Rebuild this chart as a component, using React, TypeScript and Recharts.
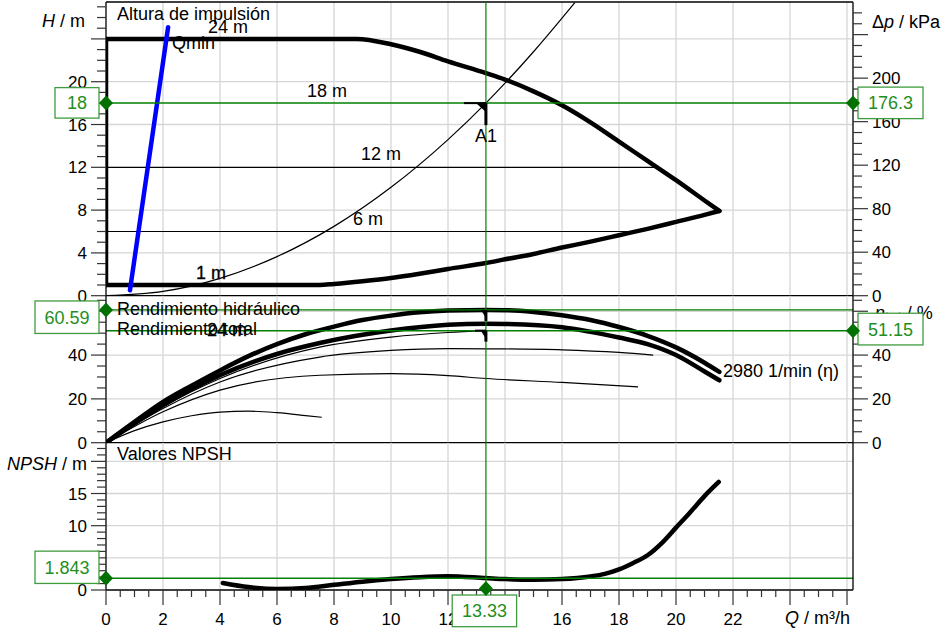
import React from "react";
import { ComposedChart, Line, XAxis, YAxis, ReferenceLine, ReferenceDot } from "recharts";

const FONT = "'Liberation Sans', Arial, Helvetica, sans-serif";
const GREEN = "#008000";
const BOX_GREEN = "#3f9c3f";
const TEXT_GREEN = "#1f8f1f";
const GRID = "#d6d6d6";

const Q_DOMAIN: [number, number] = [0, 26.21];
const H_DOMAIN: [number, number] = [0, 27.45];
const DP_DOMAIN: [number, number] = [0, 270];
const ETA_DOMAIN: [number, number] = [0, 67.1];
const NPSH_DOMAIN: [number, number] = [0, 22.9];

// operating point A1
const opQ = 13.33;
const opH = 18;
const opDp = 176.3;
const opEtaHyd = 60.59;
const opEtaTot = 51.15;
const opNpsh = 1.843;

// head: operating envelope
const upperQ = [0, 8.8, 10, 11, 12, 13.33, 14, 15, 16, 17, 18, 19, 20, 21, 21.52];
const upperH = [24, 24, 23.5, 22.8, 21.9, 20.8, 20.2, 19.1, 17.8, 16.2, 14.4, 12.6, 10.8, 8.9, 7.92];
const lowerQ = [0, 7.5, 8, 9, 10, 11, 12, 13.33, 14, 15, 16, 17, 18, 19, 20, 21, 21.52];
const lowerH = [1, 1, 1.1, 1.35, 1.65, 2.05, 2.5, 3.05, 3.4, 3.9, 4.5, 5.05, 5.65, 6.25, 6.9, 7.55, 7.92];
const edgeQ = [0, 0];
const edgeH = [1, 24];
const iso12Q = [0, 19.33];
const iso12H = [12, 12];
const iso6Q = [0, 18.6];
const iso6H = [6, 6];
// system curve
const sysQ = [0, 2, 4, 6, 8, 10, 12, 13.33, 14, 15, 16, 16.45];
const sysH = [0, 0.4, 1.62, 3.65, 6.48, 10.13, 14.59, 18, 19.86, 22.8, 25.94, 27.4];
// Qmin
const qminQ = [0.84, 2.18];
const qminH = [0.5, 25.1];

// efficiency
const etaHydQ = [0, 1, 2, 3, 4, 5, 6, 7, 8, 9, 10, 11, 12, 13.33, 14, 15, 16, 17, 18, 19, 20, 21, 21.52];
const etaHyd = [0, 9.5, 18.6, 26, 33, 39.5, 45, 49.5, 53, 56, 58, 59.5, 60.3, 60.6, 60.5, 59.7, 58.2, 56, 52.8, 48.8, 43.5, 36.5, 32.3];
const etaTotQ = [0, 2, 4, 6, 7.5, 10, 12, 13.33, 14, 16, 18, 19, 20, 21, 21.52];
const etaTot = [0, 17.1, 30.8, 40.5, 45.5, 51.2, 53.8, 54.3, 54.2, 52.7, 48, 45, 40, 32.5, 28.5];
const etaAQ = [0, 2, 4, 7.5, 10, 12, 13.33];
const etaA = [0, 16.4, 29.3, 43.6, 48.2, 50.3, 51.15];
const etaBQ = [0, 2, 4, 7.5, 10, 12, 14, 16, 18, 19.2];
const etaB = [0, 15.6, 27.7, 39.1, 42.1, 42.9, 42.8, 42.4, 41.2, 40];
const etaCQ = [0, 2, 4, 7.5, 10, 12, 13.33, 16, 18.67];
const etaC = [0, 14.1, 24, 30.8, 31.5, 30.6, 29.3, 27.5, 25.5];
const etaDQ = [0, 1, 2, 3, 4, 5, 6, 7, 7.57];
const etaD = [0, 5.5, 9.5, 12.3, 14, 14.4, 13.7, 12.4, 11.6];

// NPSH
const npshQ = [4.1, 5, 6, 7, 8, 9, 10, 11, 12, 13.33, 14, 15, 16, 17, 17.5, 18, 18.5, 19, 19.5, 20, 20.5, 21, 21.5];
const npsh = [1.1, 0.45, 0.15, 0.3, 0.8, 1.3, 1.7, 2.0, 2.15, 1.85, 1.7, 1.6, 1.7, 2.1, 2.5, 3.2, 4.2, 5.4, 7.3, 9.7, 12.1, 14.6, 16.8];

const range = (a: number, b: number, s: number) => {
  const out: number[] = [];
  for (let v = a; v <= b + 1e-9; v += s) out.push(+v.toFixed(3));
  return out;
};

const qTicks = range(0, 26, 0.5);
const qMajor = range(0, 26, 2);
const qLabels = range(0, 22, 2);
const qGrid = range(2, 26, 2);
const hTicks = range(0, 27, 1);
const hMajor = [0, 4, 8, 12, 16, 20, 24];
const hLabels = [0, 4, 8, 12, 16, 20];
const hGrid = [4, 8, 16, 20, 24];
const dpTicks = range(0, 260, 10);
const dpMajor = [0, 40, 80, 120, 160, 200, 240];
const dpLabels = [0, 40, 80, 120, 160, 200];
const etaTicks = range(0, 65, 5);
const etaMajor = [0, 20, 40, 60];
const etaLabels = [0, 20, 40];
const etaGrid = [20, 40, 60];
const npshTicks = range(0, 22, 1);
const npshMajor = [0, 5, 10, 15, 20];
const npshLabels = [0, 5, 10, 15];
const npshGrid = [5, 10, 15, 20];

const pts = (xs: number[], ys: number[]) => xs.map((q, i) => ({ q, v: ys[i] }));
const has = (arr: number[], v: number) => arr.some((m) => Math.abs(m - v) < 1e-6);

type Side = "left" | "right" | "bottom";
type Extra = (v: number, x: number, y: number) => React.ReactNode;
const tickRenderer =
  (side: Side, majors: number[], labels: number[], extra?: Extra) =>
  (props: any) => {
    const { x, y, payload } = props;
    const v = +payload.value;
    const major = has(majors, v);
    const lab = has(labels, v) ? String(v) : null;
    const ex = extra ? extra(v, x, y) : null;
    if (side === "left") {
      const len = major ? 15 : 9;
      return (
        <g>
          <line x1={x - len} x2={x} y1={y} y2={y} stroke="#333" strokeWidth={1.2} />
          {lab && (
            <text x={x - 19} y={y} dy="0.36em" textAnchor="end" fontSize={17} fill="#000">
              {lab}
            </text>
          )}
          {ex}
        </g>
      );
    }
    if (side === "right") {
      const len = major ? 15 : 9;
      return (
        <g>
          <line x1={x} x2={x + len} y1={y} y2={y} stroke="#333" strokeWidth={1.2} />
          {lab && (
            <text x={x + 19} y={y} dy="0.36em" textAnchor="start" fontSize={17} fill="#000">
              {lab}
            </text>
          )}
          {ex}
        </g>
      );
    }
    const len = major ? 15 : 7;
    return (
      <g>
        <line x1={x} x2={x} y1={y} y2={y + len} stroke="#333" strokeWidth={1.2} />
        {lab && (
          <text x={x} y={y + 35} textAnchor="middle" fontSize={17} fill="#000">
            {lab}
          </text>
        )}
      </g>
    );
  };

const diamond = (cx: number, cy: number) => (
  <polygon points={`${cx - 7},${cy} ${cx},${cy - 7.5} ${cx + 7},${cy} ${cx},${cy + 7.5}`} fill="#007000" />
);

const valueBox = (x: number, y: number, w: number, h: number, text: string) => (
  <g>
    <rect x={x} y={y} width={w} height={h} fill="#fff" stroke={BOX_GREEN} strokeWidth={1.3} />
    <text x={x + w / 2} y={y + h / 2} dy="0.36em" textAnchor="middle" fontSize={18} fill={TEXT_GREEN}>
      {text}
    </text>
  </g>
);

const thinLine = (data: { q: number; v: number }[], key: string, type: any = "monotone") => (
  <Line
    key={key}
    yAxisId="l"
    data={data}
    dataKey="v"
    type={type}
    stroke="#000"
    strokeWidth={1.2}
    dot={false}
    activeDot={false}
    isAnimationActive={false}
  />
);

const thickLine = (data: { q: number; v: number }[], key: string, color = "#000", type: any = "monotone") => (
  <Line
    key={key}
    yAxisId="l"
    data={data}
    dataKey="v"
    type={type}
    stroke={color}
    strokeWidth={4.5}
    strokeLinecap="round"
    strokeLinejoin="round"
    dot={false}
    activeDot={false}
    isAnimationActive={false}
  />
);

const gridLines = (qs: number[], ys: number[]) => [
  ...qs.map((q) => <ReferenceLine key={"gq" + q} yAxisId="l" x={q} stroke={GRID} strokeWidth={1.3} ifOverflow="visible" />),
  ...ys.map((v) => <ReferenceLine key={"gy" + v} yAxisId="l" y={v} stroke={GRID} strokeWidth={1.3} ifOverflow="visible" />),
];

const xAxisHidden = <XAxis dataKey="q" type="number" domain={Q_DOMAIN} allowDataOverflow hide ticks={qTicks} />;

// transparent layer on top of a panel, same plot box, for the value boxes
function BoxLayer(props: { height: number; top: number; bottom: number; domain: [number, number]; children: React.ReactNode }) {
  return (
    <ComposedChart width={944} height={props.height} margin={{ top: props.top, right: 91, bottom: props.bottom, left: 106 }}>
      <XAxis dataKey="q" type="number" domain={Q_DOMAIN} allowDataOverflow hide />
      <YAxis yAxisId="l" type="number" domain={props.domain} allowDataOverflow hide />
      {props.children}
    </ComposedChart>
  );
}

function HeadPanel() {
  return (
    <ComposedChart width={944} height={310} margin={{ top: 2, right: 0, bottom: 14.3, left: 0 }}>
      {xAxisHidden}
      <YAxis
        yAxisId="l"
        orientation="left"
        type="number"
        width={106}
        domain={H_DOMAIN}
        allowDataOverflow
        ticks={hTicks}
        interval={0}
        tickSize={0}
        tickMargin={0}
        axisLine={{ stroke: "#000", strokeWidth: 1.3 }}
        tickLine={false}
        tick={tickRenderer("left", hMajor, hLabels)}
      />
      <YAxis
        yAxisId="r"
        orientation="right"
        type="number"
        width={91}
        domain={DP_DOMAIN}
        allowDataOverflow
        ticks={dpTicks}
        interval={0}
        tickSize={0}
        tickMargin={0}
        axisLine={{ stroke: "#000", strokeWidth: 1.3 }}
        tickLine={false}
        tick={tickRenderer("right", dpMajor, dpLabels)}
      />
      {gridLines(qGrid, hGrid)}
      <ReferenceLine yAxisId="l" y={H_DOMAIN[1]} stroke="#000" strokeWidth={1.3} ifOverflow="visible" />
      <ReferenceLine yAxisId="l" y={0} stroke="#000" strokeWidth={1.3} ifOverflow="visible" />
      {thinLine(pts(iso12Q, iso12H), "iso12", "linear")}
      {thinLine(pts(iso6Q, iso6H), "iso6", "linear")}
      {thinLine(pts(sysQ, sysH), "sys")}
      {thickLine(pts(upperQ, upperH), "upper")}
      {thickLine(pts(lowerQ, lowerH), "lower")}
      {thickLine(pts(edgeQ, edgeH), "edge", "#000", "linear")}
      {thickLine(pts(qminQ, qminH), "qmin", "#0000ff", "linear")}
      <ReferenceLine yAxisId="l" x={opQ} stroke={GREEN} strokeWidth={1.2} ifOverflow="visible" />
      <ReferenceLine yAxisId="l" y={opH} stroke={GREEN} strokeWidth={1.5} ifOverflow="visible" />
      <ReferenceDot
        yAxisId="l"
        x={opQ}
        y={opH}
        r={1}
        ifOverflow="visible"
        shape={(p: any) => (
          <g>
            <line x1={p.cx - 22} x2={p.cx} y1={p.cy} y2={p.cy} stroke="#000" strokeWidth={2} />
            <line x1={p.cx} x2={p.cx} y1={p.cy} y2={p.cy + 22} stroke="#000" strokeWidth={3} />
            <polygon points={`${p.cx - 10},${p.cy} ${p.cx},${p.cy} ${p.cx},${p.cy + 9}`} fill="#000" />
            <text x={p.cx - 11} y={p.cy + 39} fontSize={18} fill="#000">
              A1
            </text>
          </g>
        )}
      />
    </ComposedChart>
  );
}

function HeadBoxes() {
  return (
    <BoxLayer height={310} top={2} bottom={14.3} domain={H_DOMAIN}>
      <ReferenceDot
        yAxisId="l"
        x={0}
        y={opH}
        r={1}
        ifOverflow="visible"
        shape={(p: any) => (
          <g>
            {valueBox(p.cx - 51, p.cy - 15.5, 44, 30.5, String(opH))}
            {diamond(p.cx, p.cy)}
          </g>
        )}
      />
      <ReferenceDot
        yAxisId="l"
        x={Q_DOMAIN[1]}
        y={opH}
        r={1}
        ifOverflow="visible"
        shape={(p: any) => (
          <g>
            {valueBox(p.cx + 5, p.cy - 16, 65, 31.5, String(opDp))}
            {diamond(p.cx, p.cy)}
          </g>
        )}
      />
    </BoxLayer>
  );
}

const etaRightLabel: Extra = (v, x, y) =>
  v === 60 ? (
    <text x={x + 22} y={y + 1} dy="0.36em" fontSize={18} fill="#000">
      <tspan fontStyle="italic">η</tspan>
      <tspan fontSize={15} dy={3}>
        tot
      </tspan>
      <tspan dy={-3}> / %</tspan>
    </text>
  ) : null;

function EtaPanel() {
  return (
    <ComposedChart width={944} height={175} margin={{ top: 15.7, right: 0, bottom: 12.3, left: 0 }}>
      {xAxisHidden}
      <YAxis
        yAxisId="l"
        orientation="left"
        type="number"
        width={106}
        domain={ETA_DOMAIN}
        allowDataOverflow
        ticks={etaTicks}
        interval={0}
        tickSize={0}
        tickMargin={0}
        axisLine={{ stroke: "#000", strokeWidth: 1.3 }}
        tickLine={false}
        tick={tickRenderer("left", etaMajor, etaLabels)}
      />
      <YAxis
        yAxisId="r"
        orientation="right"
        type="number"
        width={91}
        domain={ETA_DOMAIN}
        allowDataOverflow
        ticks={etaTicks}
        interval={0}
        tickSize={0}
        tickMargin={0}
        axisLine={{ stroke: "#000", strokeWidth: 1.3 }}
        tickLine={false}
        tick={tickRenderer("right", etaMajor, etaLabels, etaRightLabel)}
      />
      {gridLines(qGrid, etaGrid)}
      <ReferenceLine yAxisId="l" y={0} stroke="#000" strokeWidth={1.3} ifOverflow="visible" />
      {thinLine(pts(etaDQ, etaD), "d")}
      {thinLine(pts(etaCQ, etaC), "c")}
      {thinLine(pts(etaBQ, etaB), "b")}
      {thinLine(pts(etaAQ, etaA), "a")}
      {thickLine(pts(etaTotQ, etaTot), "tot")}
      {thickLine(pts(etaHydQ, etaHyd), "hyd")}
      <ReferenceLine yAxisId="l" x={opQ} stroke={GREEN} strokeWidth={1.2} ifOverflow="visible" />
      <ReferenceLine yAxisId="l" y={opEtaHyd} stroke={GREEN} strokeWidth={1.2} ifOverflow="visible" />
      <ReferenceLine yAxisId="l" y={opEtaTot} stroke={GREEN} strokeWidth={1.5} ifOverflow="visible" />
      <ReferenceDot
        yAxisId="l"
        x={opQ}
        y={opEtaHyd}
        r={1}
        ifOverflow="visible"
        shape={(p: any) => (
          <g>
            <line x1={p.cx} x2={p.cx} y1={p.cy} y2={p.cy + 11} stroke="#000" strokeWidth={3} />
            <polygon points={`${p.cx - 5},${p.cy} ${p.cx},${p.cy} ${p.cx},${p.cy + 8}`} fill="#000" />
          </g>
        )}
      />
      <ReferenceDot
        yAxisId="l"
        x={opQ}
        y={opEtaTot}
        r={1}
        ifOverflow="visible"
        shape={(p: any) => (
          <g>
            <line x1={p.cx - 11} x2={p.cx} y1={p.cy} y2={p.cy} stroke="#000" strokeWidth={2} />
            <line x1={p.cx} x2={p.cx} y1={p.cy} y2={p.cy + 11} stroke="#000" strokeWidth={3} />
            <polygon points={`${p.cx - 5},${p.cy} ${p.cx},${p.cy} ${p.cx},${p.cy + 8}`} fill="#000" />
          </g>
        )}
      />
    </ComposedChart>
  );
}

function EtaBoxes() {
  return (
    <BoxLayer height={175} top={15.7} bottom={12.3} domain={ETA_DOMAIN}>
      <ReferenceDot
        yAxisId="l"
        x={0}
        y={opEtaHyd}
        r={1}
        ifOverflow="visible"
        shape={(p: any) => (
          <g>
            {valueBox(p.cx - 71, p.cy - 9, 64, 32.5, opEtaHyd.toFixed(2))}
            {diamond(p.cx, p.cy)}
          </g>
        )}
      />
      <ReferenceDot
        yAxisId="l"
        x={Q_DOMAIN[1]}
        y={opEtaTot}
        r={1}
        ifOverflow="visible"
        shape={(p: any) => (
          <g>
            {valueBox(p.cx + 5, p.cy - 17.4, 65, 31.7, opEtaTot.toFixed(2))}
            {diamond(p.cx, p.cy)}
          </g>
        )}
      />
    </BoxLayer>
  );
}

const npshLeftLabel: Extra = (v, x, y) =>
  v === 20 ? (
    <text x={x - 19} y={y + 2} dy="0.36em" textAnchor="end" fontSize={18} fill="#000">
      <tspan fontStyle="italic">NPSH</tspan>
      <tspan> / m</tspan>
    </text>
  ) : null;

function NpshPanel() {
  return (
    <ComposedChart width={944} height={202} margin={{ top: 12.7, right: 0, bottom: 0, left: 0 }}>
      <XAxis
        dataKey="q"
        type="number"
        domain={Q_DOMAIN}
        allowDataOverflow
        height={42}
        ticks={qTicks}
        interval={0}
        tickSize={0}
        tickMargin={0}
        axisLine={{ stroke: "#000", strokeWidth: 1.3 }}
        tickLine={false}
        tick={tickRenderer("bottom", qMajor, qLabels)}
      />
      <YAxis
        yAxisId="l"
        orientation="left"
        type="number"
        width={106}
        domain={NPSH_DOMAIN}
        allowDataOverflow
        ticks={npshTicks}
        interval={0}
        tickSize={0}
        tickMargin={0}
        axisLine={{ stroke: "#000", strokeWidth: 1.3 }}
        tickLine={false}
        tick={tickRenderer("left", npshMajor, npshLabels, npshLeftLabel)}
      />
      <YAxis
        yAxisId="r"
        orientation="right"
        type="number"
        width={91}
        domain={NPSH_DOMAIN}
        allowDataOverflow
        tick={false}
        tickLine={false}
        axisLine={{ stroke: "#000", strokeWidth: 1.3 }}
      />
      {gridLines(qGrid, npshGrid)}
      {thickLine(pts(npshQ, npsh), "npsh")}
      <ReferenceLine yAxisId="l" x={opQ} stroke={GREEN} strokeWidth={1.2} ifOverflow="visible" />
      <ReferenceLine yAxisId="l" y={opNpsh} stroke={GREEN} strokeWidth={1.5} ifOverflow="visible" />
    </ComposedChart>
  );
}

function NpshBoxes() {
  return (
    <BoxLayer height={202} top={12.7} bottom={42} domain={NPSH_DOMAIN}>
      <ReferenceDot
        yAxisId="l"
        x={0}
        y={opNpsh}
        r={1}
        ifOverflow="visible"
        shape={(p: any) => (
          <g>
            {valueBox(p.cx - 71, p.cy - 27, 64, 32.3, String(opNpsh))}
            {diamond(p.cx, p.cy)}
          </g>
        )}
      />
      <ReferenceDot
        yAxisId="l"
        x={opQ}
        y={0}
        r={1}
        ifOverflow="visible"
        shape={(p: any) => (
          <g>
            {valueBox(p.cx - 33.7, p.cy + 5, 64.4, 31.7, opQ.toFixed(2))}
            {diamond(p.cx, p.cy - 1.5)}
          </g>
        )}
      />
    </BoxLayer>
  );
}

function Overlay() {
  const t = (x: number, y: number, s: React.ReactNode, extra: any = {}) => (
    <text x={x} y={y} fontSize={18} fill="#000" {...extra}>
      {s}
    </text>
  );
  return (
    <svg width={944} height={632} style={{ position: "absolute", left: 0, top: 0, pointerEvents: "none" }}>
      {t(117, 20, "Altura de impulsión")}
      {t(208, 33, "24 m")}
      {t(172, 49, "Qmin")}
      {t(307, 97, "18 m")}
      {t(361, 160, "12 m")}
      {t(353, 225, "6 m")}
      {t(196, 279, "1 m", { stroke: "#000", strokeWidth: 0.3 })}
      {t(117, 315, "Rendimiento hidráulico")}
      {t(117, 335, "Rendimiento total")}
      {t(207, 336, "24 m", { stroke: "#000", strokeWidth: 0.3 })}
      {t(117, 460, "Valores NPSH")}
      {t(723, 377, "2980 1/min (η)")}
      {t(
        42,
        27,
        <>
          <tspan fontStyle="italic">H</tspan>
          <tspan> / m</tspan>
        </>
      )}
      {t(
        872,
        28,
        <>
          <tspan>Δ</tspan>
          <tspan fontStyle="italic">p</tspan>
          <tspan> / kPa</tspan>
        </>
      )}
      {t(
        785,
        624,
        <>
          <tspan fontStyle="italic">Q</tspan>
          <tspan> / m³/h</tspan>
        </>
      )}
    </svg>
  );
}

const layer = (top: number, node: React.ReactNode) => (
  <div style={{ position: "absolute", left: 0, top }}>{node}</div>
);

export default function App() {
  return (
    <div
      style={{
        position: "absolute",
        left: 0,
        top: 0,
        width: 944,
        height: 632,
        background: "#fff",
        fontFamily: FONT,
        overflow: "hidden",
      }}
    >
      {layer(0, <HeadPanel />)}
      {layer(280, <EtaPanel />)}
      {layer(430, <NpshPanel />)}
      <Overlay />
      {layer(0, <HeadBoxes />)}
      {layer(280, <EtaBoxes />)}
      {layer(430, <NpshBoxes />)}
    </div>
  );
}
